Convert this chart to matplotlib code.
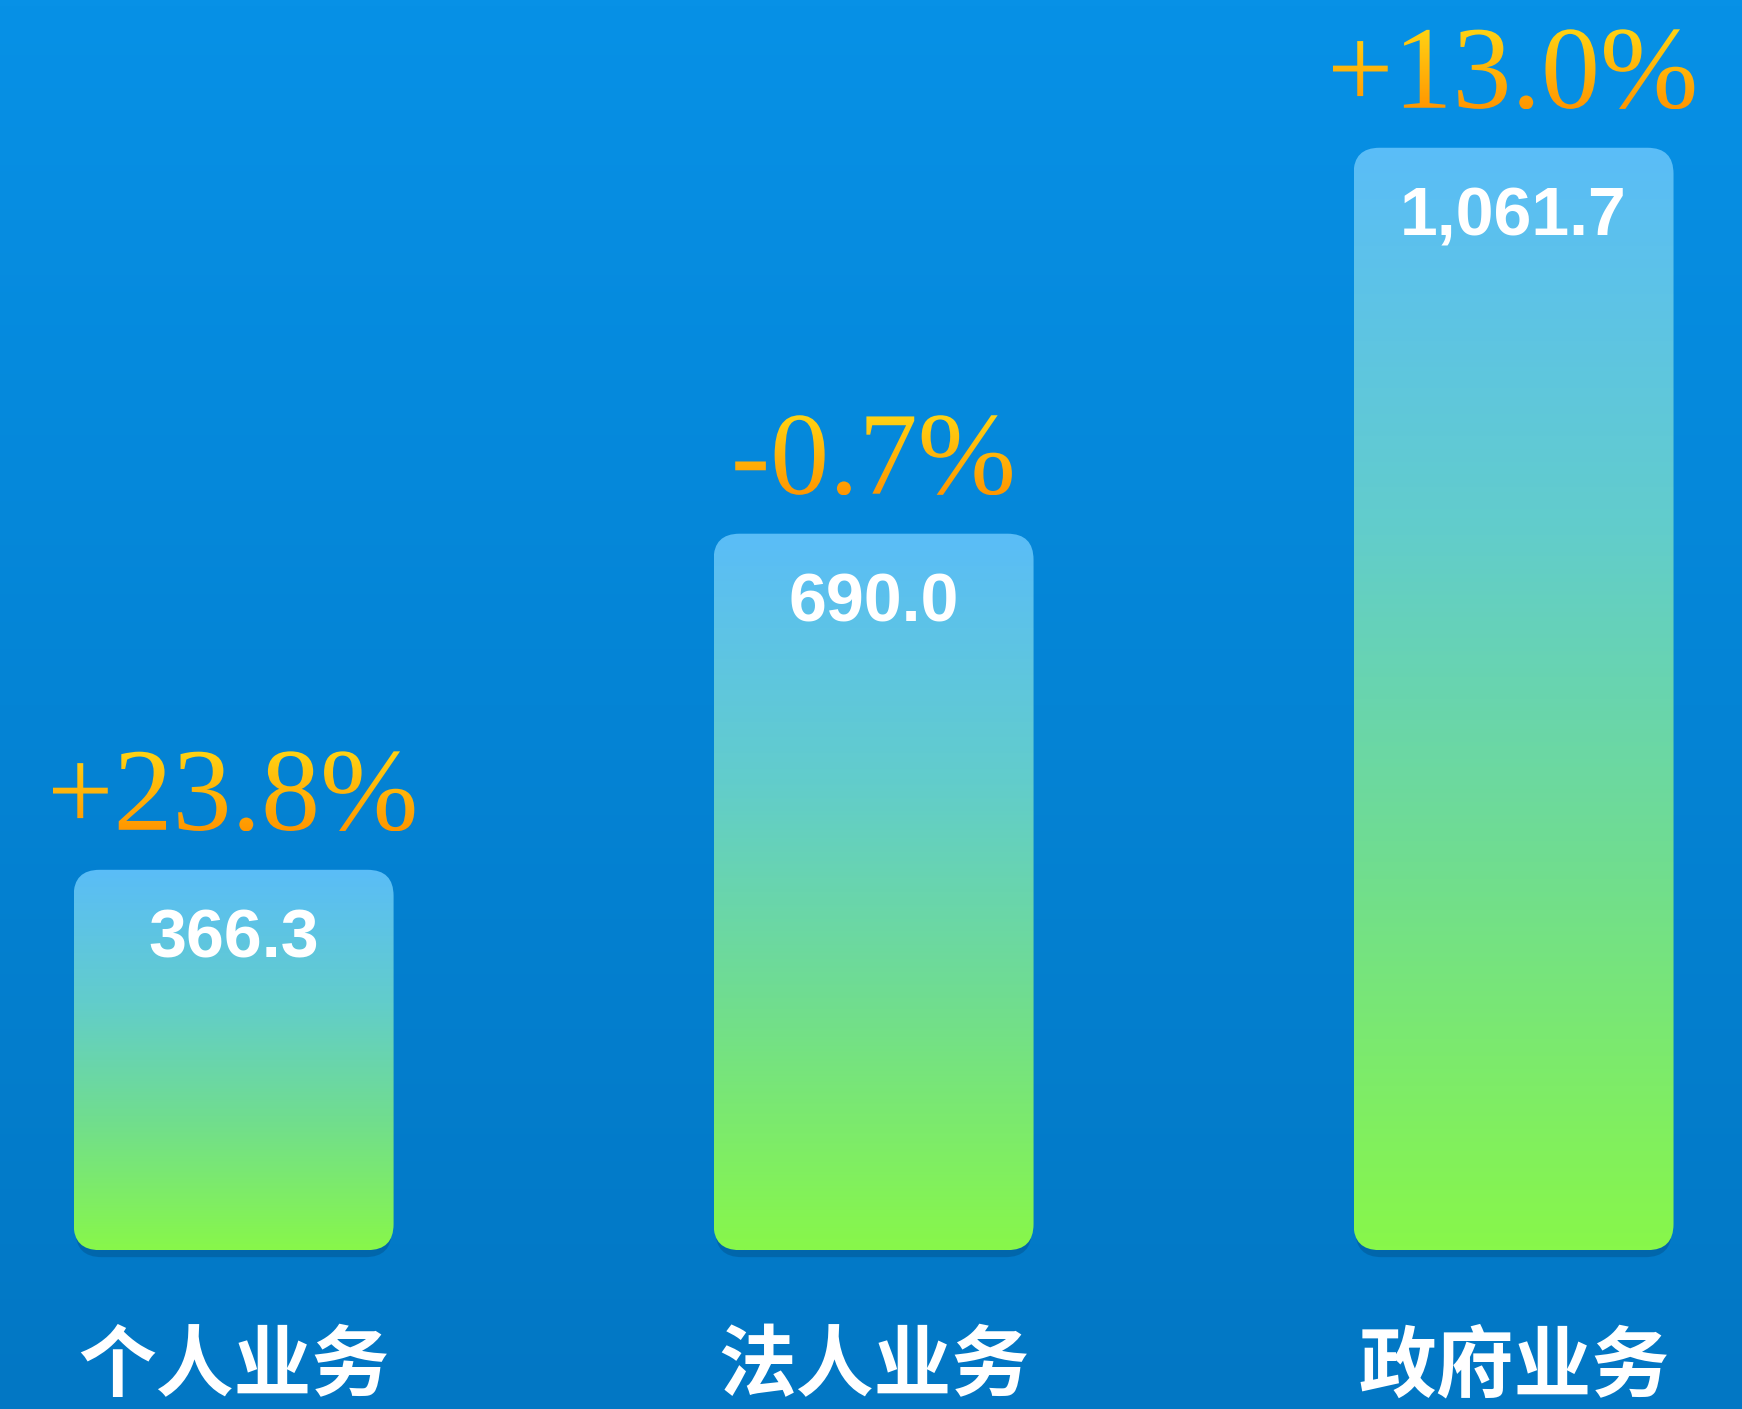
import numpy as np
import matplotlib
matplotlib.use("Agg")
import matplotlib.pyplot as plt
import matplotlib.transforms as mtransforms
from matplotlib.patches import FancyBboxPatch, PathPatch
from matplotlib.colors import LinearSegmentedColormap
from matplotlib.textpath import TextPath
from matplotlib.font_manager import FontProperties

# data
categories = ['个人业务', '法人业务', '政府业务']
values = [366.3, 690.0, 1061.7]
changes = ['+23.8%', '-0.7%', '+13.0%']

plt.rcParams['font.family'] = ['Noto Sans CJK SC', 'DejaVu Sans']

fig = plt.figure(figsize=(17.42, 14.09), dpi=100)

# background gradient
bg = fig.add_axes([0, 0, 1, 1])
bg_cmap = LinearSegmentedColormap.from_list('bg', ['#0277c4', '#0791e6'])
bg.imshow(np.linspace(0, 1, 256).reshape(-1, 1), cmap=bg_cmap, origin='lower',
          aspect='auto', extent=[0, 1, 0, 1])
bg.axis('off')

ax = fig.add_axes([0, 0, 1, 1])
ax.patch.set_visible(False)
ax.axis('off')
ax.set_xlim(-0.365, 2.357)
ax.set_ylim(-153, 1204)

bar_cmap = LinearSegmentedColormap.from_list(
    'bar', [(0, '#88f74a'), (0.35, '#70dd90'), (0.65, '#62cdcb'), (1, '#5abdf8')])
txt_cmap = LinearSegmentedColormap.from_list('txt', ['#ff9600', '#ffd414'])

x = np.arange(len(values))
bars = ax.bar(x, values, width=0.5, color='none')

# x / y data units per pixel
ux = (2.357 + 0.365) / 1742
uy = (1204 + 153) / 1409
r = 26 * ux
aspect = uy / ux

for b in bars:
    x0, y0, w, h = b.get_x(), b.get_y(), b.get_width(), b.get_height()
    shadow = FancyBboxPatch((x0 + 2 * ux, y0 - 7 * uy), w - 4 * ux, h,
                            boxstyle=f'round,pad=0,rounding_size={r}',
                            mutation_aspect=aspect, facecolor='#00305a',
                            edgecolor='none', alpha=0.25, zorder=1)
    ax.add_patch(shadow)
    box = FancyBboxPatch((x0, y0), w, h, boxstyle=f'round,pad=0,rounding_size={r}',
                         mutation_aspect=aspect, facecolor='none',
                         edgecolor='none', zorder=2)
    ax.add_patch(box)
    im = ax.imshow(np.linspace(0, 1, 256).reshape(-1, 1), cmap=bar_cmap,
                   origin='lower', aspect='auto', extent=[x0, x0 + w, y0, y0 + h],
                   zorder=2)
    im.set_clip_path(box)

# value labels inside bars
for xi, v in zip(x, values):
    ax.annotate(f'{v:,.1f}', (xi, v), xytext=(0, -27), textcoords='offset points',
                ha='center', va='top', fontsize=49, fontweight='bold',
                color='white', family='Liberation Sans', zorder=3)

# growth labels with gradient fill
fp = FontProperties(family='Liberation Serif')
for xi, v, c in zip(x, values, changes):
    tp = TextPath((0, 0), c, size=118, prop=fp)
    ext = tp.get_extents()
    cx, cy = ax.transData.transform((xi, v))
    tr = mtransforms.Affine2D().translate(cx - (ext.x0 + ext.x1) / 2, cy + 40)
    path = tr.transform_path(tp)
    patch = PathPatch(path, transform=mtransforms.IdentityTransform(),
                      facecolor='none', edgecolor='none')
    ax.add_patch(patch)
    pe = path.get_extents()
    (dx0, dy0), (dx1, dy1) = ax.transData.inverted().transform(
        [(pe.x0, pe.y0), (pe.x1, pe.y1)])
    im = ax.imshow(np.linspace(0, 1, 256).reshape(-1, 1), cmap=txt_cmap,
                   origin='lower', aspect='auto', extent=[dx0, dx1, dy0, dy1],
                   zorder=4)
    im.set_clip_path(patch)

# category labels
for xi, c in zip(x, categories):
    ax.text(xi, -153 + 2 * uy, c, ha='center', va='bottom', fontsize=56,
            fontweight='bold', color='white', zorder=3)

ax.set_xlim(-0.365, 2.357)
ax.set_ylim(-153, 1204)

plt.savefig('out.png', dpi=100)
